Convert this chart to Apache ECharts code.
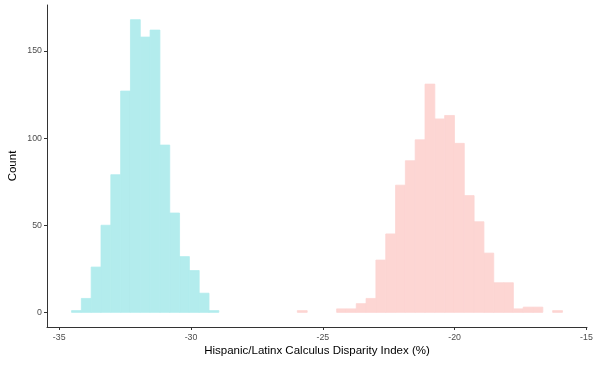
<!DOCTYPE html>
<html>
<head>
<meta charset="utf-8">
<script src="https://cdn.jsdelivr.net/npm/echarts@6/dist/echarts.min.js"></script>
<style>html,body{margin:0;padding:0;background:#fff}#chart{width:595px;height:368px}</style>
</head>
<body>
<div id="chart"></div>
<script>
// Histogram bin grid (shared by both groups)
const binStart = -34.531;
const binWidth = 0.3724;
// Group A (cyan): counts for bins starting at index 0
const countsAStartBin = 0;
const countsA = [1, 8, 26, 50, 79, 127, 168, 158, 162, 96, 57, 32, 24, 11, 1];
// Group B (pink): counts for bins starting at index 23
const countsBStartBin = 23;
const countsB = [1, 0, 0, 0, 2, 2, 5, 8, 30, 45, 73, 87, 99, 131, 111, 113, 97, 67, 52, 34, 17, 17, 2, 3, 3, 0, 1];
// Axis ticks
const xTicks = [-35, -30, -25, -20, -15];
const yTicks = [0, 50, 100, 150];
const xTitle = 'Hispanic/Latinx Calculus Disparity Index (%)';
const yTitle = 'Count';

function toBins(counts, startBin) {
  return counts.map((c, i) => {
    const k = startBin + i;
    return [binStart + k * binWidth, binStart + (k + 1) * binWidth, c];
  }).filter(d => d[2] > 0);
}

function makeRender(color) {
  return function (params, api) {
    const p0 = api.coord([api.value(0), 0]);
    const p1 = api.coord([api.value(1), api.value(2)]);
    return {
      type: 'rect',
      shape: { x: p0[0], y: p1[1], width: p1[0] - p0[0], height: p0[1] - p1[1] },
      style: { fill: color, stroke: color, lineWidth: 0.8 }
    };
  };
}

const chart = echarts.init(document.getElementById('chart'), null, { renderer: 'canvas' });
const font = 'Liberation Sans, Arial, sans-serif';
chart.setOption({
  animation: false,
  backgroundColor: '#ffffff',
  grid: { left: 47, right: 8, top: 5, bottom: 41, containLabel: false, outerBoundsMode: 'none' },
  xAxis: {
    type: 'value',
    min: -35.462,
    max: -14.98,
    name: xTitle,
    nameLocation: 'middle',
    nameGap: 18,
    nameMoveOverlap: false,
    nameTextStyle: { color: '#000', fontSize: 11.5, fontFamily: font },
    splitLine: { show: false },
    axisLine: { show: true, onZero: false, lineStyle: { color: '#333', width: 1 } },
    axisTick: { show: true, length: 3, customValues: xTicks, lineStyle: { color: '#333' } },
    axisLabel: { customValues: xTicks, color: '#4D4D4D', fontSize: 8.8, fontFamily: font, margin: 6 }
  },
  yAxis: {
    type: 'value',
    min: -8.4,
    max: 176.4,
    name: yTitle,
    nameLocation: 'middle',
    nameGap: 28,
    nameRotate: 90,
    nameMoveOverlap: false,
    nameTextStyle: { color: '#000', fontSize: 11.5, fontFamily: font },
    splitLine: { show: false },
    axisLine: { show: true, onZero: false, lineStyle: { color: '#333', width: 1 } },
    axisTick: { show: true, length: 3, customValues: yTicks, lineStyle: { color: '#333' } },
    axisLabel: { customValues: yTicks, color: '#4D4D4D', fontSize: 8.8, fontFamily: font, margin: 5 }
  },
  series: [
    {
      type: 'custom',
      renderItem: makeRender('#B3ECED'),
      encode: { x: [0, 1], y: 2 },
      data: toBins(countsA, countsAStartBin)
    },
    {
      type: 'custom',
      renderItem: makeRender('#FDD6D3'),
      encode: { x: [0, 1], y: 2 },
      data: toBins(countsB, countsBStartBin)
    }
  ]
});
</script>
</body>
</html>
